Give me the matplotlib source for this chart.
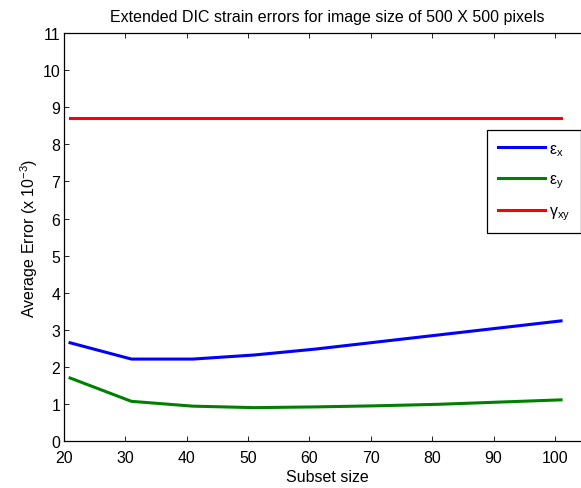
import matplotlib
matplotlib.use("Agg")
import matplotlib.pyplot as plt
import numpy as np

plt.rcParams["font.family"] = ["Liberation Sans", "DejaVu Sans"]
plt.rcParams["mathtext.fontset"] = "custom"
plt.rcParams["mathtext.rm"] = "Liberation Sans"
plt.rcParams["mathtext.it"] = "Liberation Sans"

# subset sizes and strain errors (x 10^-3)
subset_size = [21, 31, 41, 51, 61, 71, 81, 91, 101]
err_ex = [2.65, 2.21, 2.21, 2.32, 2.48, 2.67, 2.86, 3.05, 3.24]
err_ey = [1.70, 1.07, 0.94, 0.90, 0.92, 0.95, 0.99, 1.05, 1.11]
err_gxy = [8.71, 8.71, 8.71, 8.71, 8.71, 8.71, 8.71, 8.71, 8.71]

x_ticks = [20, 30, 40, 50, 60, 70, 80, 90, 100]
y_ticks = list(range(0, 12))

fig = plt.figure(figsize=(5.81, 4.89), dpi=100)
ax = fig.add_axes([0.110, 0.0961, 0.9053, 0.834])

ax.plot(subset_size, err_ex, color=(0, 0, 1), lw=2.2, label=r"$\mathregular{ε_x}$")
ax.plot(subset_size, err_ey, color=(0, 0.5, 0), lw=2.2, label=r"$\mathregular{ε_y}$")
ax.plot(subset_size, err_gxy, color=(1, 0, 0), lw=2.2, label=r"$\mathregular{γ_{xy}}$")

ax.set_xlim(20, 105.7)
ax.set_ylim(0, 11)
ax.set_xticks(x_ticks)
ax.set_yticks(y_ticks)
ax.tick_params(direction="in", length=3.5, width=0.6, top=True, right=True,
               labelsize=11.4)
ax.tick_params(axis="x", pad=6.5)
ax.tick_params(axis="y", pad=2.5)
for s in ax.spines.values():
    s.set_linewidth(0.9)
# right edge of the box falls outside the figure
ax.spines["right"].set_visible(False)

ax.set_title("Extended DIC strain errors for image size of 500 X 500 pixels",
             fontsize=11.5, pad=8.5)
ax.set_xlabel("Subset size", fontsize=11.5, labelpad=3)
ax.set_ylabel(r"Average Error (x 10$^{-3}$)", fontsize=11.5, labelpad=2.2)

leg = ax.legend(loc="upper left", bbox_to_anchor=(0.805, 0.762), borderaxespad=0,
                fancybox=False, framealpha=1, edgecolor="black", fontsize=11.4,
                handlelength=2.95, labelspacing=0.86, handletextpad=0.25,
                borderpad=0.68)
leg.get_frame().set_linewidth(0.9)

fig.savefig("out.png", dpi=100)
